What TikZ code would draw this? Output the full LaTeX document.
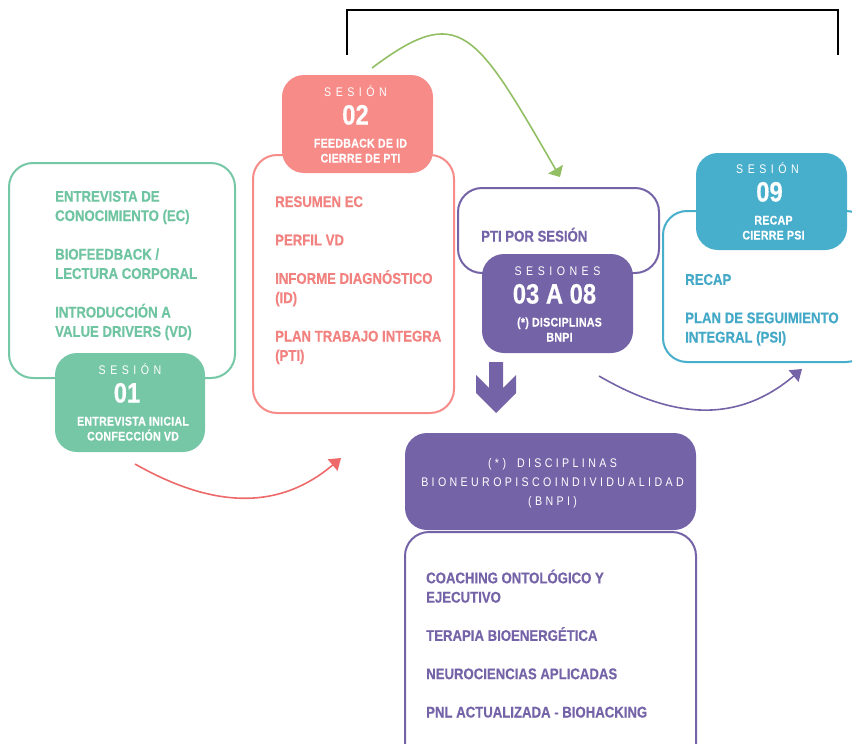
\documentclass[tikz,border=0pt]{standalone}
\usepackage{fontspec}
\setmainfont{Liberation Sans}
\newfontfamily\condfont[FakeStretch=0.85,BoldFeatures={FakeBold=0.4}]{Liberation Sans}
\newfontfamily\spacedfont[FakeStretch=0.85,LetterSpace=36]{Liberation Sans}
\newfontfamily\widefont[FakeStretch=0.85,LetterSpace=27]{Liberation Sans}
\newfontfamily\labelfont[FakeStretch=0.85,LetterSpace=2,BoldFeatures={FakeBold=0.3}]{Liberation Sans}
\usetikzlibrary{arrows.meta,calc}
\definecolor{cgreen}{HTML}{76C7A6}
\definecolor{tgreen}{HTML}{6FC4A1}
\definecolor{cpink}{HTML}{F68B88}
\definecolor{tpink}{HTML}{F2827F}
\definecolor{cpurple}{HTML}{7563A8}
\definecolor{cblue}{HTML}{47AECB}
\definecolor{tblue}{HTML}{43A9C7}
\definecolor{carrowg}{HTML}{92BF63}
\definecolor{carrowr}{HTML}{EE6A6A}
\begin{document}
\begin{tikzpicture}[x=1pt,y=-1pt,
  outbox/.style={draw=#1, line width=2pt, rounded corners=24pt, fill=white, inner sep=0pt, outer sep=0pt, anchor=north west},
  filbox/.style={fill=#1, rounded corners=22pt, inner sep=0pt, outer sep=0pt, anchor=north west},
  content/.style={text=#1, font=\condfont\bfseries\fontsize{15.5}{19.3}\selectfont, align=left, anchor=base west, inner sep=0pt},
  sesword/.style={text=white, font=\spacedfont\fontsize{12.5}{15}\selectfont, anchor=base, inner sep=0pt},
  sesnum/.style={text=white, font=\condfont\bfseries\fontsize{28}{30}\selectfont, anchor=base, inner sep=0pt},
  seslab/.style={text=white, font=\labelfont\bfseries\fontsize{12.5}{15}\selectfont, align=center, anchor=base, inner sep=0pt},
  bigword/.style={text=white, font=\widefont\fontsize{12.5}{19}\selectfont, align=center, anchor=base, inner sep=0pt},
  conn/.style={draw=#1, line width=1.6pt, -{Triangle[length=11pt,width=15pt,fill=#1]}}
]
\useasboundingbox (0,0) rectangle (852,744);
\clip (0,0) rectangle (852,744);

% bracket
\coordinate (brl) at (347,55);
\coordinate (brr) at (838,55);
\draw[line width=2pt, line join=miter] (brl) |- (brr |- 0,10) -- (brr);

% ---- session 01 ----
\node[outbox=cgreen, minimum width=226pt, minimum height=215pt] (b01) at (9,163) {};
\node[content=tgreen] (t01) at (55,336.8) {ENTREVISTA DE\\CONOCIMIENTO (EC)\\[19.3pt]BIOFEEDBACK /\\LECTURA CORPORAL\\[19.3pt]INTRODUCCIÓN A\\VALUE DRIVERS (VD)};
\node[filbox=cgreen, minimum width=150pt, minimum height=99pt] (s01) at (55,353) {};
\node[sesword] (s01a) at ($(s01.north)+(0,21)$) {SESIÓN};
\node[sesnum] (s01b) at ($(s01.north)+(-3,49.5)$) {01};
\node[seslab] (s01c) at ($(s01.north)+(3,87.5)$) {ENTREVISTA INICIAL\\CONFECCIÓN VD};

% ---- session 02 ----
\node[outbox=cpink, minimum width=201pt, minimum height=258pt] (b02) at (253,155) {};
\node[content=tpink] (t02) at (275,360.8) {RESUMEN EC\\[19.1pt]PERFIL VD\\[19.1pt]INFORME DIAGNÓSTICO\\(ID)\\[19.1pt]PLAN TRABAJO INTEGRA\\(PTI)};
\node[filbox=cpink, minimum width=151pt, minimum height=98pt] (s02) at (282,75) {};
\node[sesword] (s02a) at ($(s02.north)+(-2,21)$) {SESIÓN};
\node[sesnum] (s02b) at ($(s02.north)+(-2,49.5)$) {02};
\node[seslab] (s02c) at ($(s02.north)+(3,87.5)$) {FEEDBACK DE ID\\CIERRE DE PTI};

% ---- sessions 03 a 08 ----
\node[outbox=cpurple, minimum width=201pt, minimum height=85pt] (pti) at (458,188) {};
\node[content=cpurple] (tpti) at (481,241.5) {PTI POR SESIÓN};
\node[filbox=cpurple, minimum width=151pt, minimum height=99pt] (s38) at (482,254) {};
\node[sesword] (s38a) at ($(s38.north)+(0,21)$) {SESIONES};
\node[sesnum] (s38b) at ($(s38.north)+(-3,49.5)$) {03 A 08};
\node[seslab] (s38c) at ($(s38.north)+(2,87.5)$) {(*) DISCIPLINAS\\BNPI};

% ---- session 09 ----
\node[outbox=cblue, minimum width=207pt, minimum height=151pt] (b09) at (663,211) {};
\node[content=tblue] (t09) at (685,342.5) {RECAP\\[19pt]PLAN DE SEGUIMIENTO\\INTEGRAL (PSI)};
\node[filbox=cblue, minimum width=151pt, minimum height=97pt] (s09) at (696,153) {};
\node[sesword] (s09a) at ($(s09.north)+(-4,20)$) {SESIÓN};
\node[sesnum] (s09b) at ($(s09.north)+(-2,48.5)$) {09};
\node[seslab] (s09c) at ($(s09.north)+(2,86.5)$) {RECAP\\CIERRE PSI};

% ---- BNPI ----
\node[outbox=cpurple, minimum width=291pt, minimum height=250pt] (bbn) at (405,532) {};
\node[content=cpurple] (tbn) at (426,717.5) {COACHING ONTOLÓGICO Y\\EJECUTIVO\\[19pt]TERAPIA BIOENERGÉTICA\\[19pt]NEUROCIENCIAS APLICADAS\\[19pt]PNL ACTUALIZADA - BIOHACKING};
\node[filbox=cpurple, minimum width=291pt, minimum height=97pt] (sbn) at (405,433) {};
\node[bigword] (sbna) at ($(sbn.north)+(2,72.5)$) {(*)\hspace{11pt}DISCIPLINAS\\BIONEUROPISCOINDIVIDUALIDAD\\(BNPI)};

% thick down arrow
\fill[cpurple] (489,362) -- (503,362) -- (503,388) -- (516,375) -- (516,393) -- (496,413) -- (476,393) -- (476,375) -- (489,388) -- cycle;

% connectors
\draw[conn=carrowg, -{Triangle[length=9pt,width=17pt,fill=carrowg]}] ($(s02.north)+(14.5,-7)$) .. controls (460,2) and (475,30) .. ($(pti.north)+(1.5,-11)$);
\draw[conn=carrowr] ($(s01.south)+(5,12)$) .. controls (209,506) and (276,513) .. ($(b02.south)+(-12.5,45)$);
\draw[conn=cpurple] ($(s38.south)+(41.5,23)$) .. controls (673,419) and (737,424) .. ($(b09.south)+(35.5,7)$);
\end{tikzpicture}
\end{document}
